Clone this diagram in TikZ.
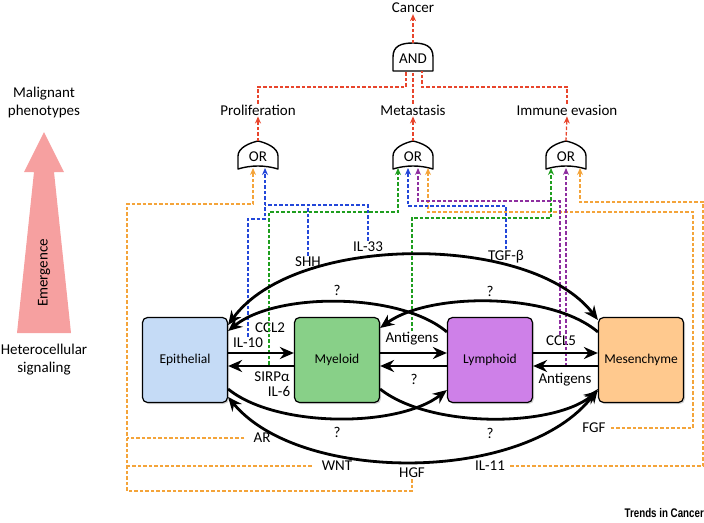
\documentclass[tikz,border=0pt]{standalone}
\usepackage{fontspec}
\setmainfont{Carlito}
\newfontfamily\trendsfont{Liberation Sans}
\usetikzlibrary{arrows.meta,shadows,calc}
\definecolor{epiC}{HTML}{C5DBF6}
\definecolor{myeC}{HTML}{88D088}
\definecolor{lymC}{HTML}{CE80E8}
\definecolor{mesC}{HTML}{FFC98E}
\definecolor{redC}{HTML}{E8452C}
\definecolor{orC}{HTML}{F4A43A}
\definecolor{blC}{HTML}{2347D9}
\definecolor{grC}{HTML}{1E9E1E}
\definecolor{puC}{HTML}{8E2EA0}
\definecolor{emerC}{HTML}{F6A0A0}
\begin{document}
\begin{tikzpicture}[x=1pt,y=-1pt,
  lbl/.style={font=\fontsize{15}{18}\selectfont, inner sep=1pt},
  cell/.style={draw, line width=1.2pt, rounded corners=5pt, minimum width=85pt, minimum height=85pt,
    font=\fontsize{13.5}{16}\selectfont, drop shadow={opacity=0.35,shadow xshift=1.5pt,shadow yshift=-1.5pt}},
  blk/.style={line width=2.8pt, -{Stealth[length=14pt,width=12pt]}},
  blk2/.style={line width=2.8pt, {Stealth[length=14pt,width=12pt]}-{Stealth[length=14pt,width=12pt]}},
  sig/.style={dash pattern=on 3.5pt off 2pt, line width=1.3pt},
  sigar/.style={sig, -{Stealth[length=7pt,width=6pt]}},
  gate/.style={draw, line width=1.4pt, fill=white, line join=round},
  orgate/.pic={\path[gate] (-20,14) -- (-20,1) .. controls (-20,-7) and (-9,-12) .. (0,-14)
      .. controls (9,-12) and (20,-7) .. (20,1) -- (20,14) .. controls (7,10) and (-7,10) .. (-20,14) -- cycle;
      \node[lbl] (-n) at (0,2) {OR};},
  andgate/.pic={\path[gate] (-20,14) -- (-20,0) .. controls (-20,-11) and (-12,-14) .. (0,-14)
      .. controls (12,-14) and (20,-11) .. (20,0) -- (20,14) -- cycle;
      \node[lbl] (-n) at (0,2) {AND};}
]
\useasboundingbox (0,0) rectangle (704,522);

% emergence arrow
\fill[emerC] (44,132) -- (64,172) -- (54,172) -- (71,333) -- (17,333) -- (34,172) -- (24,172) -- cycle;
\node[lbl, rotate=90] (emg) at (44,273) {Emergence};
\node[lbl, align=center] (malig) at (44,102) {Malignant\\phenotypes};
\node[lbl, align=center] (hetero) at (44,360) {Heterocellular\\signaling};

% cells
\node[cell, fill=epiC] (epi) at (185,360) {Epithelial};
\node[cell, fill=myeC] (mye) at (337,360) {Myeloid};
\node[cell, fill=lymC] (lym) at (490,360) {Lymphoid};
\node[cell, fill=mesC] (mes) at (641,360) {Mesenchyme};

% gates
\pic (andG) at (413,57) {andgate};
\pic (orL) at (258,155) {orgate};
\pic (orM) at (413,155) {orgate};
\pic (orR) at (566,155) {orgate};
\coordinate (andtop) at (413,43);
\coordinate (andb1) at (406,71);
\coordinate (andb2) at (413,71);
\coordinate (andb3) at (422,71);
\coordinate (orLt) at (258,141);
\coordinate (orMt) at (413,141);
\coordinate (orRt) at (566,141);
\coordinate (orL1) at (253,168);
\coordinate (orL2) at (265,168);
\coordinate (orM1) at (398,168);
\coordinate (orM2) at (408,168);
\coordinate (orM3) at (418,168);
\coordinate (orM4) at (428,168);
\coordinate (orR1) at (551,168);
\coordinate (orR2) at (566,168);
\coordinate (orR3) at (580,168);

% top labels
\node[lbl] (cancer) at (413,8) {Cancer};
\node[lbl] (prolif) at (258,110) {Proliferation};
\node[lbl] (metas) at (413,110) {Metastasis};
\node[lbl] (immune) at (567,110) {Immune evasion};

% signal labels
\node[lbl] (shh) at (308,262) {SHH};
\node[lbl] (il33) at (368,247) {IL-33};
\node[lbl] (tgf) at (506,257) {TGF-β};
\node[lbl] (ccl2) at (270,328) {CCL2};
\node[lbl] (il10) at (248,343) {IL-10};
\node[lbl] (sirp) at (272,377) {SIRPα};
\node[lbl] (il6) at (279,391) {IL-6};
\node[lbl] (antig1) at (412,339) {Antigens};
\node[lbl] (q1) at (414,379) {?};
\node[lbl] (ccl5) at (561,341) {CCL5};
\node[lbl] (antig2) at (565,380) {Antigens};
\node[lbl] (q2) at (337,290) {?};
\node[lbl] (q3) at (490,291) {?};
\node[lbl] (q4) at (337,432) {?};
\node[lbl] (q5) at (490,433) {?};
\node[lbl] (ar) at (262,438) {AR};
\node[lbl] (wnt) at (337,466) {WNT};
\node[lbl] (hgf) at (412,473) {HGF};
\node[lbl] (il11) at (490,466) {IL-11};
\node[lbl] (fgf) at (594,428) {FGF};

% red logic
\draw[sigar, redC] (andtop) -- (cancer.south);
\draw[sig, redC] (prolif.north) |- (406,87) -- (andb1);
\draw[sig, redC] (metas.north) -- (andb2);
\draw[sig, redC] (immune.north) |- (422,87) -- (andb3);
\draw[sigar, redC] (orLt) -- (prolif.south);
\draw[sigar, redC] (orMt) -- (metas.south);
\draw[sigar, redC] (orRt) -- (immune.south);

% orange
\draw[sigar, orC] (hgf.south) |- (127,491) -- (127,204) -| (orL1);
\draw[sig, orC] ([xshift=-8pt]ar.west) -- (127,438);
\draw[sig, orC] ([xshift=-9pt]wnt.west) -- (127,466);
\draw[sigar, orC] ([xshift=4pt]fgf.east) -| (693,212) -| (orM4);
\draw[sigar, orC] ([xshift=4pt]il11.east) -| (703,202) -| (orR3);

% blue
\draw[sigar, blC] (il10.north) |- (265,219) -- (orL2);
\draw[sig, blC] (shh.north) -- (308,205);
\draw[sig, blC] (il33.north) |- (265,205);
\draw[sigar, blC] (tgf.north) |- (408,206) -- (orM2);

% green
\draw[sigar, grC] ([shift={(-3,-6)}]sirp.north) |- (398,212) -- (orM1);
\draw[sigar, grC] (antig1.north) |- (551,218) -- (orR1);

% purple
\draw[sigar, puC] ([xshift=-1pt]ccl5.north) |- (418,201) -- (orM3);
\draw[sigar, puC] ([shift={(5,32)}]ccl5.north) -- (orR2);

% straight black arrows
\draw[blk] ([yshift=7pt]epi.east) -- ([yshift=7pt]mye.west);
\draw[blk] ([yshift=-6pt]mye.west) -- ([yshift=-6pt]epi.east);
\draw[blk] ([yshift=7pt]mye.east) -- ([yshift=7pt]lym.west);
\draw[blk] ([yshift=-6pt]lym.west) -- ([yshift=-6pt]mye.east);
\draw[blk] ([yshift=7pt]lym.east) -- ([yshift=7pt]mes.west);
\draw[blk] ([yshift=-6pt]mes.west) -- ([yshift=-6pt]lym.east);

% curved black arrows
\draw[blk2] ([yshift=35pt]epi.east) .. controls (295,233) and (531,233) .. ([yshift=40pt]mes.west);
\draw[blk] ([yshift=28pt]lym.west) .. controls (400,292) and (276,292) .. ([yshift=29pt]epi.east);
\draw[blk] ([yshift=28pt]mes.west) .. controls (551,292) and (429,292) .. ([yshift=32pt]mye.east);
\draw[blk] ([yshift=-29pt]epi.east) .. controls (276,428) and (398,428) .. ([yshift=-30pt]lym.west);
\draw[blk] ([yshift=-29pt]mye.east) .. controls (429,428) and (551,428) .. ([yshift=-31pt]mes.west);
\draw[blk2] ([yshift=-37pt]epi.east) .. controls (300,484) and (526,484) .. ([yshift=-29pt]mes.west);

\node[font=\trendsfont\bfseries\fontsize{12.5}{14}\selectfont, anchor=east, inner sep=0pt] (trends) at (704,513) {\scalebox{0.78}[1]{Trends in Cancer}};
\end{tikzpicture}
\end{document}
